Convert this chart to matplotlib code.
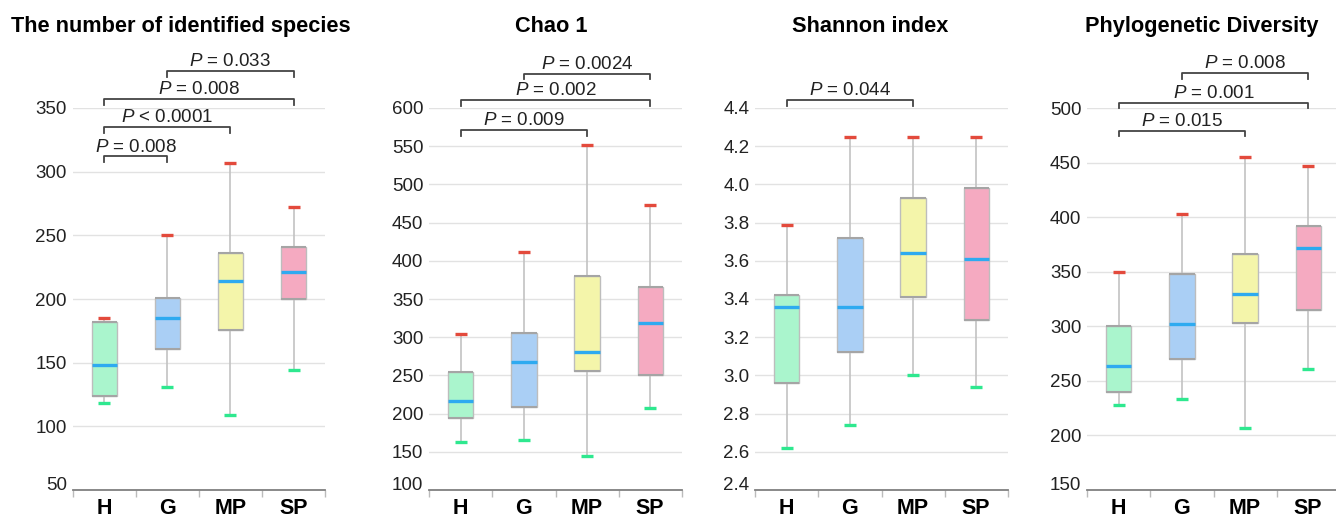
import numpy as np
import matplotlib
matplotlib.use("Agg")
import matplotlib.pyplot as plt

plt.rcParams['font.family'] = ['Liberation Sans', 'DejaVu Sans']
plt.rcParams['mathtext.fontset'] = 'custom'
plt.rcParams['mathtext.rm'] = 'Liberation Sans'
plt.rcParams['mathtext.it'] = 'Liberation Sans:italic'

groups = ["H", "G", "MP", "SP"]
box_colors = ["#aaf5cd", "#aacff5", "#f4f5aa", "#f5aac1"]

# five-number summaries: min, q1, median, q3, max
species_min = [118, 131, 109, 144]
species_q1 = [124, 161, 176, 200]
species_med = [148, 185, 214, 221]
species_q3 = [182, 201, 236, 241]
species_max = [185, 250, 307, 272]

chao_min = [163, 165, 145, 207]
chao_q1 = [194, 208, 256, 251]
chao_med = [216, 268, 281, 318]
chao_q3 = [255, 305, 380, 366]
chao_max = [304, 411, 551, 473]

shannon_min = [2.62, 2.74, 3.00, 2.94]
shannon_q1 = [2.96, 3.12, 3.41, 3.29]
shannon_med = [3.36, 3.36, 3.64, 3.61]
shannon_q3 = [3.42, 3.72, 3.93, 3.98]
shannon_max = [3.79, 4.25, 4.25, 4.25]

pd_min = [228, 233, 207, 261]
pd_q1 = [240, 270, 303, 315]
pd_med = [264, 302, 330, 372]
pd_q3 = [300, 348, 366, 392]
pd_max = [350, 403, 455, 447]

# significance brackets: (group a, group b, height, text)
species_brackets = [(0, 1, 312, "= 0.008"), (0, 2, 335, "< 0.0001"),
                    (0, 3, 357, "= 0.008"), (1, 3, 379, "= 0.033")]
chao_brackets = [(0, 2, 571, "= 0.009"), (0, 3, 610, "= 0.002"),
                 (1, 3, 645, "= 0.0024")]
shannon_brackets = [(0, 2, 4.44, "= 0.044")]
pd_brackets = [(0, 2, 479, "= 0.015"), (0, 3, 505, "= 0.001"),
               (1, 3, 532, "= 0.008")]

panels = [
    ("The number of identified species", (species_min, species_q1, species_med, species_q3, species_max),
     species_brackets, (50, 350), np.arange(50, 351, 50), "{:.0f}"),
    ("Chao 1", (chao_min, chao_q1, chao_med, chao_q3, chao_max),
     chao_brackets, (100, 600), np.arange(100, 601, 50), "{:.0f}"),
    ("Shannon index", (shannon_min, shannon_q1, shannon_med, shannon_q3, shannon_max),
     shannon_brackets, (2.4, 4.4), np.arange(2.4, 4.41, 0.2), "{:.1f}"),
    ("Phylogenetic Diversity", (pd_min, pd_q1, pd_med, pd_q3, pd_max),
     pd_brackets, (150, 500), np.arange(150, 501, 50), "{:.0f}"),
]

W, H = 1336, 519
axes_left_px = [72.7, 429.3, 755.3, 1087.3]
title_x_px = [180.4, 551.3, 870.3, 1202]
axes_w_px = 252.4
top_px, bottom_px = 108, 490

fig = plt.figure(figsize=(W / 100, H / 100), dpi=100)

for k, (title, stats, brackets, ylim, yticks, fmt) in enumerate(panels):
    ax = fig.add_axes([axes_left_px[k] / W, 1 - bottom_px / H,
                       axes_w_px / W, (bottom_px - top_px) / H])
    lo, q1, med, q3, hi = stats
    bstats = [dict(whislo=lo[i], q1=q1[i], med=med[i], q3=q3[i], whishi=hi[i],
                   fliers=[], label=groups[i]) for i in range(len(groups))]
    res = ax.bxp(bstats, positions=range(len(groups)), widths=0.4, capwidths=0.19,
                 patch_artist=True, showfliers=False, manage_ticks=False,
                 boxprops=dict(edgecolor="#bdbdbd", linewidth=1.0),
                 whiskerprops=dict(color="#c2c2c2", linewidth=1.2),
                 medianprops=dict(color="#2eaaf0", linewidth=2.4, solid_capstyle="butt"),
                 capprops=dict(linewidth=2.4, solid_capstyle="butt"))
    for i, patch in enumerate(res["boxes"]):
        patch.set_facecolor(box_colors[i])
        patch.set_zorder(2)
    for i, cap in enumerate(res["caps"]):
        cap.set_color("#2ee88f" if i % 2 == 0 else "#e34a3c")
        cap.set_zorder(4)
    for m in res["medians"]:
        m.set_zorder(5)
    # darker top and bottom box edges
    ax.hlines(q1 + q3, [i - 0.2 for i in range(4)] * 2, [i + 0.2 for i in range(4)] * 2,
              color="#a5a5a5", linewidth=1.5, zorder=3)

    ax.set_xlim(-0.5, 3.5)
    ax.set_ylim(*ylim)
    ax.set_yticks(yticks)
    ax.set_yticklabels([fmt.format(v) for v in yticks])
    ax.get_yticklabels()[0].set_va("baseline")
    ax.set_xticks(range(4))
    ax.set_xticklabels(groups, fontsize=15.5, fontweight="bold")
    ax.set_xticks(np.arange(-0.5, 3.6, 1), minor=True)
    ax.tick_params(axis="x", which="major", length=0, pad=5.6)
    ax.tick_params(axis="x", which="minor", length=5, width=1, color="#bbbbbb")
    ax.tick_params(axis="y", length=0, pad=4.3, labelsize=13.5, labelcolor="#222222")
    ax.yaxis.grid(True, color="#e2e2e2", linewidth=1.0)
    ax.set_axisbelow(True)
    for side in ("left", "right", "top"):
        ax.spines[side].set_visible(False)
    ax.spines["bottom"].set_color("#808080")
    ax.spines["bottom"].set_linewidth(1.3)

    drop = 0.0145 * (ylim[1] - ylim[0])
    for a, b, y, txt in brackets:
        ax.plot([a, a, b, b], [y - drop, y, y, y - drop], color="#444444",
                linewidth=1.3, clip_on=False)
        ax.annotate(r"$\mathit{P}$ " + txt, xy=((a + b) / 2, y), xytext=(0, 3.5),
                    textcoords="offset points", ha="center", va="baseline",
                    fontsize=13.5, color="#222222", annotation_clip=False)

    fig.text(title_x_px[k] / W, 1 - 31.7 / H, title, ha="center", va="baseline",
             fontsize=15.7, fontweight="bold")

fig.savefig("out.png", dpi=100)
